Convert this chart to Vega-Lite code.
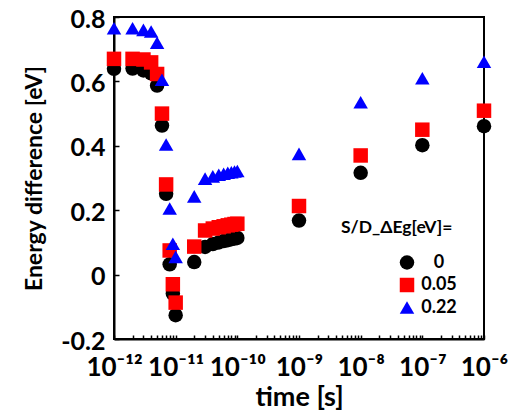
{
  "$schema": "https://vega.github.io/schema/vega-lite/v6.json",
  "width": 370,
  "height": 322,
  "autosize": "none",
  "padding": {"left": 114, "top": 17, "right": 34, "bottom": 73},
  "background": "white",
  "config": {
    "font": "Lato",
    "view": {"stroke": "black", "strokeWidth": 2},
    "axis": {"grid": false, "domainColor": "black", "domainWidth": 2, "tickColor": "black", "tickWidth": 1.5, "labelColor": "black", "titleColor": "black", "labelFont": "Lato", "titleFont": "Lato", "labelFontWeight": "bold", "titleFontWeight": "bold"}
  },
  "data": {"values": [
    {"t": 1e-12, "e": 0.639, "s": "0"},
    {"t": 2e-12, "e": 0.640, "s": "0"},
    {"t": 3e-12, "e": 0.634, "s": "0"},
    {"t": 4e-12, "e": 0.625, "s": "0"},
    {"t": 5e-12, "e": 0.587, "s": "0"},
    {"t": 6e-12, "e": 0.463, "s": "0"},
    {"t": 7e-12, "e": 0.251, "s": "0"},
    {"t": 8e-12, "e": 0.032, "s": "0"},
    {"t": 9e-12, "e": -0.059, "s": "0"},
    {"t": 1e-11, "e": -0.126, "s": "0"},
    {"t": 2e-11, "e": 0.039, "s": "0"},
    {"t": 3e-11, "e": 0.086, "s": "0"},
    {"t": 4e-11, "e": 0.095, "s": "0"},
    {"t": 5e-11, "e": 0.100, "s": "0"},
    {"t": 6e-11, "e": 0.104, "s": "0"},
    {"t": 7e-11, "e": 0.107, "s": "0"},
    {"t": 8e-11, "e": 0.110, "s": "0"},
    {"t": 9e-11, "e": 0.112, "s": "0"},
    {"t": 1e-10, "e": 0.114, "s": "0"},
    {"t": 1e-9, "e": 0.168, "s": "0"},
    {"t": 1e-8, "e": 0.316, "s": "0"},
    {"t": 1e-7, "e": 0.402, "s": "0"},
    {"t": 1e-6, "e": 0.461, "s": "0"},
    {"t": 1e-12, "e": 0.670, "s": "0.05"},
    {"t": 2e-12, "e": 0.670, "s": "0.05"},
    {"t": 3e-12, "e": 0.668, "s": "0.05"},
    {"t": 4e-12, "e": 0.659, "s": "0.05"},
    {"t": 5e-12, "e": 0.623, "s": "0.05"},
    {"t": 6e-12, "e": 0.500, "s": "0.05"},
    {"t": 7e-12, "e": 0.280, "s": "0.05"},
    {"t": 8e-12, "e": 0.075, "s": "0.05"},
    {"t": 9e-12, "e": -0.030, "s": "0.05"},
    {"t": 1e-11, "e": -0.087, "s": "0.05"},
    {"t": 2e-11, "e": 0.087, "s": "0.05"},
    {"t": 3e-11, "e": 0.137, "s": "0.05"},
    {"t": 4e-11, "e": 0.143, "s": "0.05"},
    {"t": 5e-11, "e": 0.147, "s": "0.05"},
    {"t": 6e-11, "e": 0.150, "s": "0.05"},
    {"t": 7e-11, "e": 0.153, "s": "0.05"},
    {"t": 8e-11, "e": 0.155, "s": "0.05"},
    {"t": 9e-11, "e": 0.157, "s": "0.05"},
    {"t": 1e-10, "e": 0.158, "s": "0.05"},
    {"t": 1e-9, "e": 0.213, "s": "0.05"},
    {"t": 1e-8, "e": 0.370, "s": "0.05"},
    {"t": 1e-7, "e": 0.450, "s": "0.05"},
    {"t": 1e-6, "e": 0.509, "s": "0.05"},
    {"t": 1e-12, "e": 0.765, "s": "0.22"},
    {"t": 2e-12, "e": 0.765, "s": "0.22"},
    {"t": 3e-12, "e": 0.760, "s": "0.22"},
    {"t": 4e-12, "e": 0.755, "s": "0.22"},
    {"t": 5e-12, "e": 0.720, "s": "0.22"},
    {"t": 6e-12, "e": 0.605, "s": "0.22"},
    {"t": 7e-12, "e": 0.404, "s": "0.22"},
    {"t": 8e-12, "e": 0.205, "s": "0.22"},
    {"t": 9e-12, "e": 0.096, "s": "0.22"},
    {"t": 1e-11, "e": 0.055, "s": "0.22"},
    {"t": 2e-11, "e": 0.243, "s": "0.22"},
    {"t": 3e-11, "e": 0.298, "s": "0.22"},
    {"t": 4e-11, "e": 0.305, "s": "0.22"},
    {"t": 5e-11, "e": 0.310, "s": "0.22"},
    {"t": 6e-11, "e": 0.313, "s": "0.22"},
    {"t": 7e-11, "e": 0.316, "s": "0.22"},
    {"t": 8e-11, "e": 0.318, "s": "0.22"},
    {"t": 9e-11, "e": 0.320, "s": "0.22"},
    {"t": 1e-10, "e": 0.322, "s": "0.22"},
    {"t": 1e-9, "e": 0.375, "s": "0.22"},
    {"t": 1e-8, "e": 0.535, "s": "0.22"},
    {"t": 1e-7, "e": 0.610, "s": "0.22"},
    {"t": 1e-6, "e": 0.661, "s": "0.22"}
  ]},
  "mark": {"type": "point", "filled": true, "opacity": 1, "size": 210},
  "encoding": {
    "x": {
      "field": "t", "type": "quantitative",
      "scale": {"type": "log", "domain": [1e-12, 1e-6], "nice": false},
      "axis": {
        "title": "time [s]", "titleFontSize": 27, "titlePadding": 4,
        "labelFontSize": 26, "labelPadding": 19, "tickSize": -4, "labelFlush": false,
        "values": [1e-12,2e-12,3e-12,4e-12,5e-12,6e-12,7e-12,8e-12,9e-12,1e-11,2e-11,3e-11,4e-11,5e-11,6e-11,7e-11,8e-11,9e-11,1e-10,2e-10,3e-10,4e-10,5e-10,6e-10,7e-10,8e-10,9e-10,1e-9,2e-9,3e-9,4e-9,5e-9,6e-9,7e-9,8e-9,9e-9,1e-8,2e-8,3e-8,4e-8,5e-8,6e-8,7e-8,8e-8,9e-8,1e-7,2e-7,3e-7,4e-7,5e-7,6e-7,7e-7,8e-7,9e-7,1e-6],
        "labelExpr": "abs(log(datum.value)/LN10 - round(log(datum.value)/LN10)) > 0.01 ? '' : (round(log(datum.value)/LN10) == -12 ? '10⁻¹²' : round(log(datum.value)/LN10) == -11 ? '10⁻¹¹' : round(log(datum.value)/LN10) == -10 ? '10⁻¹⁰' : round(log(datum.value)/LN10) == -9 ? '10⁻⁹' : round(log(datum.value)/LN10) == -8 ? '10⁻⁸' : round(log(datum.value)/LN10) == -7 ? '10⁻⁷' : '10⁻⁶')"
      }
    },
    "y": {
      "field": "e", "type": "quantitative",
      "scale": {"domain": [-0.2, 0.8], "nice": false, "zero": false},
      "axis": {
        "title": "Energy difference [eV]", "titleFontSize": 23, "titlePadding": 14,
        "labelFontSize": 25, "labelPadding": 14, "tickSize": -5, "labelOffset": 2,
        "values": [-0.2, 0, 0.2, 0.4, 0.6, 0.8],
        "labelExpr": "datum.value == 0 ? '0' : (datum.value < 0 ? '-' : '') + format(abs(datum.value), '.1f')"
      }
    },
    "color": {
      "field": "s", "type": "nominal",
      "scale": {"domain": ["0", "0.05", "0.22"], "range": ["black", "#ff0000", "#0000ff"]},
      "legend": {
        "title": "S/D_ΔEg[eV]=", "orient": "none", "legendX": 227, "legendY": 202,
        "titleFontSize": 17.5, "titleFontWeight": "bold", "titleColor": "black", "titlePadding": 17,
        "labelFontSize": 18, "labelFontWeight": "bold", "labelColor": "black",
        "symbolSize": 210, "symbolOffset": 57, "labelOffset": 23, "labelAlign": "center", "rowPadding": 4.5, "symbolStrokeWidth": 0
      }
    },
    "shape": {
      "field": "s", "type": "nominal",
      "scale": {"domain": ["0", "0.05", "0.22"], "range": ["circle", "square", "triangle-up"]}
    }
  }
}
